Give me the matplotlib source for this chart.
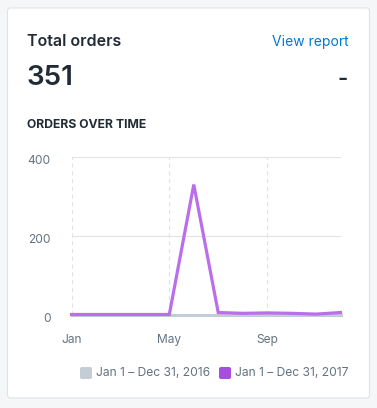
import matplotlib
matplotlib.use("Agg")
import matplotlib.pyplot as plt
import matplotlib.transforms as mtransforms
from matplotlib.patches import FancyBboxPatch

plt.rcParams['font.family'] = ['Inter', 'DejaVu Sans']

months = ["Jan", "Feb", "Mar", "Apr", "May", "Jun", "Jul", "Aug", "Sep", "Oct", "Nov", "Dec"]
orders_2016 = [0, 0, 0, 0, 0, 0, 0, 0, 0, 0, 0, 0]
orders_2017 = [0, 0, 0, 0, 0, 330, 5, 3, 4, 3, 1, 5]
y_ticks = [0, 200, 400]
x_tick_labels = ["Jan", "May", "Sep"]
legend_labels = ["Jan 1 – Dec 31, 2016", "Jan 1 – Dec 31, 2017"]
total_orders = "351"

W, H = 377, 408
fig = plt.figure(figsize=(W / 100, H / 100), dpi=100)
fig.patch.set_facecolor("#f4f6f8")

def fx(x):
    return x / W

def fy(y):
    return 1 - y / H

# card
card = FancyBboxPatch((fx(7.5), fy(398)), fx(362), (390) / H,
                      boxstyle="round,pad=0,rounding_size=0.008",
                      transform=fig.transFigure, facecolor="white",
                      edgecolor="#dfe3e8", linewidth=0.8, zorder=-5)
fig.patches.append(card)

dark = "#212b36"
grey = "#637381"

fig.text(fx(27), fy(42), "Total orders", fontsize=11.5, fontweight="semibold",
         color=dark, va="center", ha="left")
fig.text(fx(349), fy(42), "View report", fontsize=10, color="#007ace",
         va="center", ha="right")
fig.text(fx(26), fy(78), total_orders, fontsize=20, fontweight="semibold",
         color=dark, va="center", ha="left")
fig.text(fx(348), fy(79), "-", fontsize=16, fontweight="semibold",
         color=dark, va="center", ha="right")
fig.text(fx(27), fy(125), "ORDERS OVER TIME", fontsize=8.8, fontweight="bold",
         color=dark, va="center", ha="left")

# plot area
left, right, top, bottom = 71.5, 340.5, 157, 314.5
ax = fig.add_axes([fx(left), fy(bottom), fx(right - left), (bottom - top) / H])
ax.set_zorder(5)
ax.set_facecolor("none")
x = list(range(len(months)))
ax.set_xlim(0, len(months) - 1)
ax.set_ylim(0, 400)
for s in ax.spines.values():
    s.set_visible(False)

for yt in y_ticks:
    ax.axhline(yt, color="#dfe3e8", linewidth=0.8, zorder=1)
xt_pos = [months.index(m) for m in x_tick_labels]
for xp in xt_pos:
    ax.axvline(xp, color="#dfe3e8", linewidth=0.8, linestyle=(0, (4, 3)), zorder=1)

ax.plot(x, orders_2016, color="#c4cdd5", linewidth=2.2, zorder=2, clip_on=False,
        solid_joinstyle="miter")
ax.plot(x, orders_2017, color="#bb6ee9", linewidth=2.3, zorder=3, clip_on=False,
        solid_joinstyle="miter")

ax.set_yticks(y_ticks)
ax.set_yticklabels([str(v) for v in y_ticks])
ax.set_xticks(xt_pos)
ax.set_xticklabels(x_tick_labels)
ax.tick_params(axis="both", length=0, labelsize=8.6, labelcolor=grey)
ax.tick_params(axis="y", pad=15)
ax.tick_params(axis="x", pad=14)
offset = mtransforms.ScaledTranslation(0, -3 / 100, fig.dpi_scale_trans)
for lbl in ax.get_yticklabels():
    lbl.set_transform(lbl.get_transform() + offset)

# legend
sq_colors = ["#c4cdd5", "#a64fdf"]
sq_x = [80, 219]
for c, sx, lab in zip(sq_colors, sq_x, legend_labels):
    sq = FancyBboxPatch((fx(sx), fy(379)), fx(12), 12 / H,
                        boxstyle="round,pad=0,rounding_size=0.005",
                        transform=fig.transFigure, facecolor=c, edgecolor="none",
                        zorder=2)
    fig.patches.append(sq)
    fig.text(fx(sx + 16), fy(372.5), lab, fontsize=8.7, color=grey,
             va="center", ha="left")

fig.savefig("out.png", dpi=100, facecolor=fig.get_facecolor())
